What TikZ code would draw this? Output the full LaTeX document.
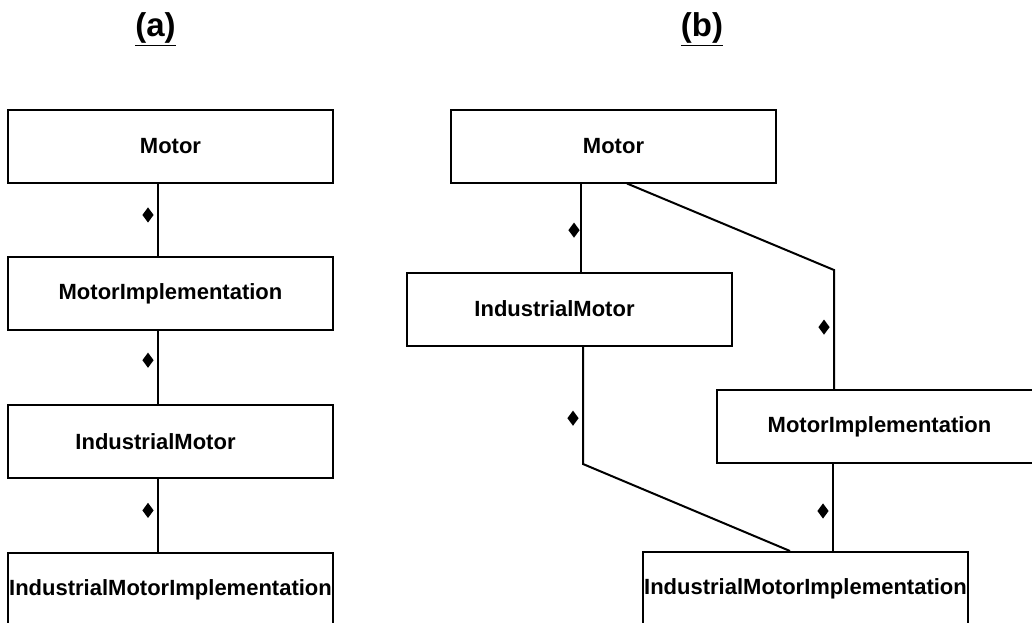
\documentclass[tikz,border=0pt]{standalone}
\usepackage{fontspec}
\usepackage{tikz}
\usetikzlibrary{positioning, calc, shapes.geometric}
\newfontfamily\umlfont{Liberation Sans}

\begin{document}
\begin{tikzpicture}[
    x=0.5pt, y=-0.5pt,
    cls/.style={rectangle, draw=black, line width=1pt, minimum width=162.5pt, minimum height=36.5pt, inner sep=0pt, font=\umlfont\bfseries\fontsize{11}{13}\selectfont},
    link/.style={line width=1pt},
    dmd/.style={diamond, fill=black, inner sep=0pt, minimum width=6pt, minimum height=8pt, xshift=-5pt},
    caption/.style={font=\umlfont\bfseries\fontsize{16.5}{19}\selectfont, anchor=base}
]
\clip (0,0) rectangle (1032,622);

% Titles
\node[caption] (capA) at (155.5,36) {\underline{(a)}};
\node[caption] (capB) at (702,36) {\underline{(b)}};

% Nodes (a)
\node[cls] (motorA) at (170.5,146.5) {Motor};
\node[cls] (implA) at (170.5,293.5) {MotorImplementation};
\node[cls] (indA) at (170.5,441.5) {IndustrialMotor\hspace*{15pt}};
\node[cls] (indImplA) at (170.5,589.5) {IndustrialMotorImplementation};

% Nodes (b)
\node[cls] (motorB) at (613.5,146) {Motor};
\node[cls] (indB) at (569.5,309) {IndustrialMotor\hspace*{15pt}};
\node[cls] (implB) at (879.5,426.5) {MotorImplementation};
\node[cls] (indImplB) at (805.5,588.5) {IndustrialMotorImplementation};

% Links (a)
\draw[link] ($(motorA.south)+(-12.5,0)$) -- node[dmd, pos=.43] {} ($(implA.north)+(-12.5,0)$);
\draw[link] ($(implA.south)+(-12.5,0)$) -- node[dmd, pos=.4] {} ($(indA.north)+(-12.5,0)$);
\draw[link] ($(indA.south)+(-12.5,0)$) -- node[dmd, pos=.43] {} ($(indImplA.north)+(-12.5,0)$);

% Links (b)
\coordinate (mbL) at ($(motorB.south)+(-32.5,0)$);
\coordinate (mbR) at ($(motorB.south)+(13.5,0)$);
\coordinate (ibB) at ($(indB.south)+(13.5,0)$);
\coordinate (imB) at ($(implB.south)+(-46.5,0)$);
\draw[link] (mbL) -- node[dmd, pos=.53, xshift=1.5pt] {} (mbL |- indB.north);
\draw[link] (mbR) -- ($(implB.north)+(-45.5,-119)$) -- node[dmd, pos=.48] {} ($(implB.north)+(-45.5,0)$);
\draw[link] (ibB) -- node[dmd, pos=.61] {} (ibB |- implB.south) -- ($(indImplB.north)+(-15.5,0)$);
\draw[link] (imB) -- node[dmd, pos=.54] {} (imB |- indImplB.north);
\end{tikzpicture}
\end{document}
